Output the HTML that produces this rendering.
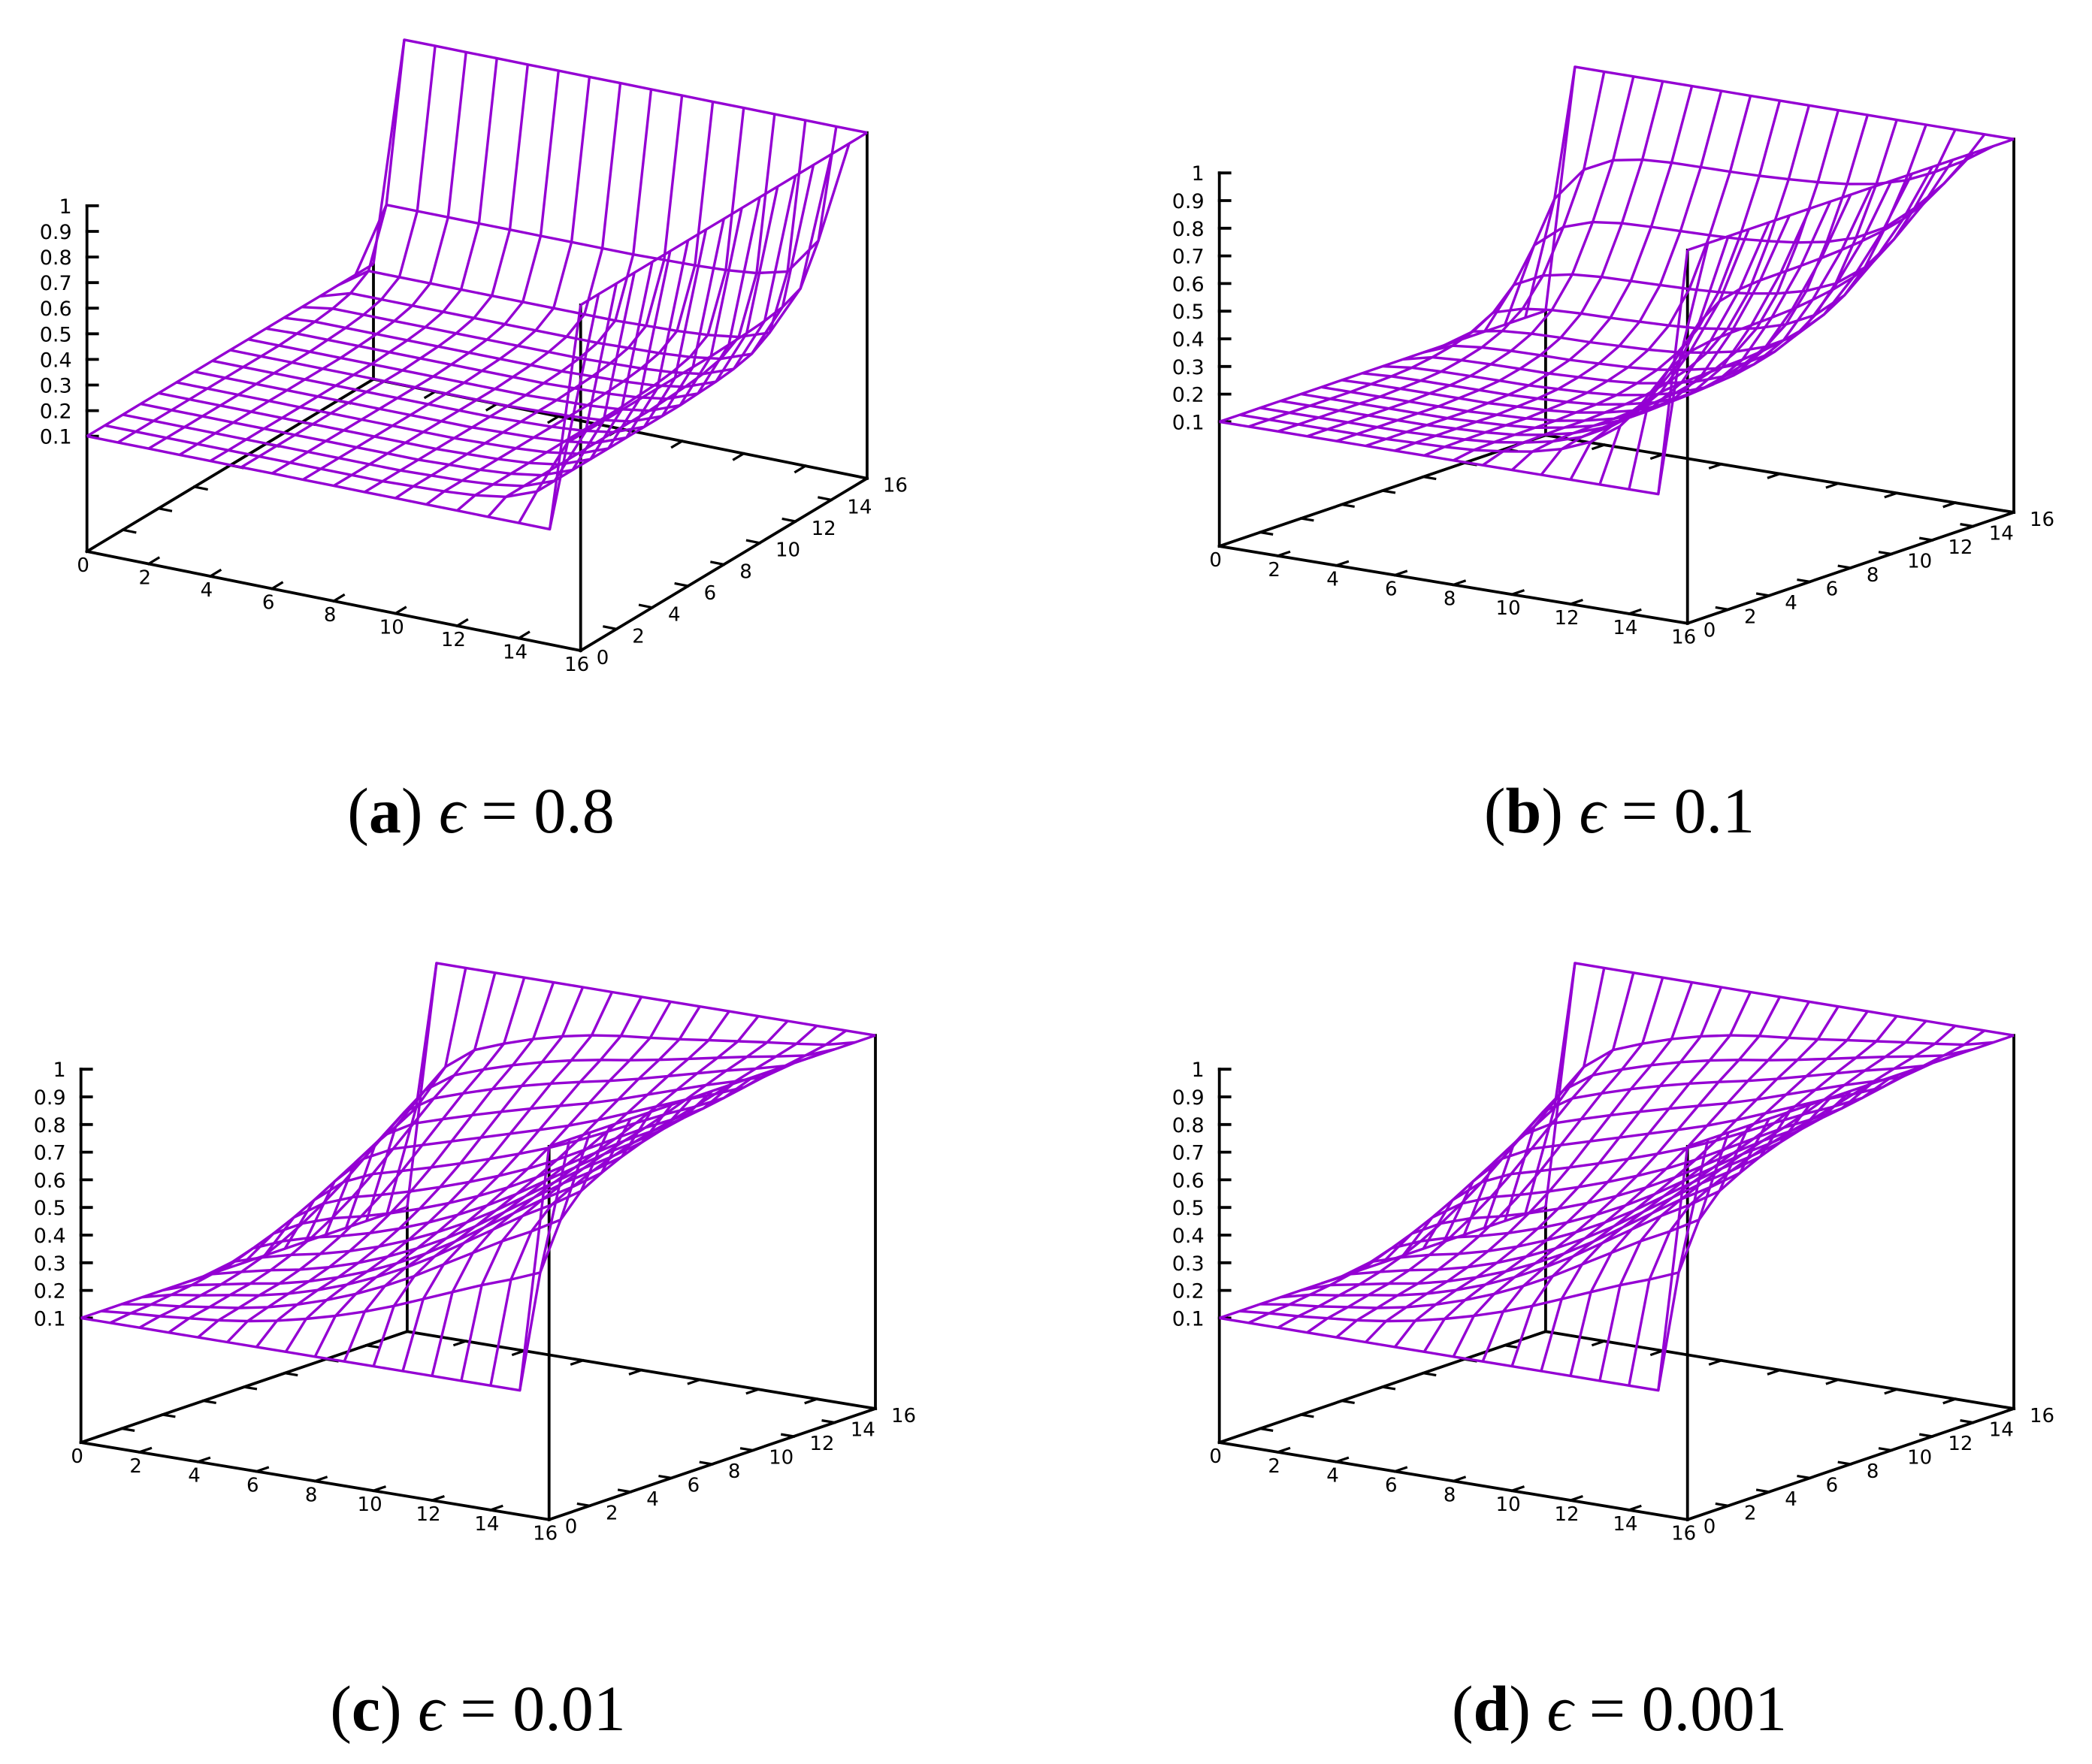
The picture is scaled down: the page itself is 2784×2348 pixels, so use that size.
<!DOCTYPE html>
<html><head><meta charset="utf-8"><title>Surface plots</title>
<style>html,body{margin:0;padding:0;background:#fff}svg{display:block}</style></head>
<body>
<svg id="fig" xmlns="http://www.w3.org/2000/svg" width="2784" height="2348" viewBox="0 0 2784 2348"></svg>
<script>
// ---- data ----
const xTickVals = [0,2,4,6,8,10,12,14,16];
const yTickVals = [0,2,4,6,8,10,12,14,16];
const zTickVals = [0.1,0.2,0.3,0.4,0.5,0.6,0.7,0.8,0.9,1];
const zTickLabels = ["0.1","0.2","0.3","0.4","0.5","0.6","0.7","0.8","0.9","1"];
const lowValue = 0.1;
const highValue = 1;
// boundary-layer profile (index = grid coordinate 0..16) per panel
const profA = [0,0,0,0,0,0,0,0,0,0,0.005,0.01,0.02,0.04,0.09,0.33,1];
const inflowA = [0,1,1,1,1,1,1,1,1,1,1,1,1,1,1,1,1];
const profB = [0,0,0,0,0,0,0.005,0.01,0.02,0.04,0.067,0.11,0.18,0.30,0.49,0.72,1];
const inflowB = [0,0.69,0.88,0.96,0.99,1,1,1,1,1,1,1,1,1,1,1,1];
const profC = [0,0.01,0.02,0.04,0.06,0.09,0.13,0.18,0.24,0.31,0.39,0.48,0.57,0.66,0.74,0.83,1];
const inflowC = [0,0.53,0.75,0.85,0.9,0.94,0.97,0.99,1,1,1,1,1,1,1,1,1];
const profD = [0,0.01,0.02,0.04,0.06,0.09,0.13,0.18,0.24,0.31,0.39,0.48,0.57,0.66,0.74,0.83,1];
const inflowD = [0,0.53,0.75,0.85,0.9,0.94,0.97,0.99,1,1,1,1,1,1,1,1,1];
const captionLetters = ["a","b","c","d"];
const captionEps = ["0.8","0.1","0.01","0.001"];

// ---- layout ----
const NS = "http://www.w3.org/2000/svg";
const svg = document.getElementById("fig");
const panels = [
  {O:[115.7,734], X:[41.06,8.25], Y:[23.83,-14.33], Z:340.8, cap:[640,1108], prof:profA, q:inflowA},
  {O:[1622.7,727], X:[38.94,6.42], Y:[27.14,-9.23], Z:368, cap:[2155,1108], prof:profB, q:inflowB},
  {O:[107.7,1920], X:[38.94,6.42], Y:[27.14,-9.23], Z:368, cap:[636,2303], prof:profC, q:inflowC},
  {O:[1622.7,1920], X:[38.94,6.42], Y:[27.14,-9.23], Z:368, cap:[2155,2303], prof:profD, q:inflowD}
];
const zBase = -0.35;
const PURPLE = "#9400d3";

function mk(tag, attrs, parent){
  const e = document.createElementNS(NS, tag);
  for (const k in attrs) e.setAttribute(k, attrs[k]);
  (parent||svg).appendChild(e);
  return e;
}
function value(p, i, j){
  if (i === 0) return lowValue;
  if (i === 16 || j === 16) return highValue;
  if (j === 0) return lowValue;
  const a = p.prof[i] * p.q[j], b = p.prof[j] * p.q[i];
  return lowValue + (highValue - lowValue) * (1 - (1 - a) * (1 - b));
}

panels.forEach((p, k) => {
  const g = mk("g", {});
  
  
  const P = (x, y, z) => [p.O[0] + x*p.X[0] + y*p.Y[0], p.O[1] + x*p.X[1] + y*p.Y[1] - (z - zBase)*p.Z];
  const line = (a, b, w, col, parent) => mk("line", {x1:a[0].toFixed(1), y1:a[1].toFixed(1), x2:b[0].toFixed(1), y2:b[1].toFixed(1), stroke:col, "stroke-width":w, "stroke-linecap":"square"}, parent);

  const ax = mk("g", {}, g);
  
  
  const c00 = P(0,0,zBase), c10 = P(16,0,zBase), c11 = P(16,16,zBase), c01 = P(0,16,zBase);
  line(c00, c10, 3.8, "#000", ax); line(c10, c11, 3.8, "#000", ax);
  line(c11, c01, 3.8, "#000", ax); line(c01, c00, 3.8, "#000", ax);
  line(c00, P(0,0,1), 3.8, "#000", ax);
  line(c10, P(16,0,1), 3.8, "#000", ax);
  line(c11, P(16,16,1), 3.8, "#000", ax);
  line(c01, P(0,16,0.1), 3.8, "#000", ax);

  xTickVals.forEach(v => {
    const a = P(v,0,zBase), b = P(v,0.55,zBase);
    const t = line(a, b, 3.2, "#000", ax);
    
    line(P(v,16,zBase), P(v,15.45,zBase), 3.2, "#000", ax);
    const lab = mk("text", {x:(a[0]-5).toFixed(1), y:(a[1]+27).toFixed(1), "text-anchor":"middle", "font-family":"DejaVu Sans, Liberation Sans, sans-serif", "font-size":"26", fill:"#000"}, ax);
    lab.textContent = String(v);
    
    
  });
  yTickVals.forEach(v => {
    const a = P(16,v,zBase);
    const t = line(a, P(15.6,v,zBase), 3.2, "#000", ax);
    
    line(P(0,v,zBase), P(0.4,v,zBase), 3.2, "#000", ax);
    const lab = mk("text", {x:(a[0]+21).toFixed(1), y:(a[1]+18).toFixed(1), "text-anchor":"start", "font-family":"DejaVu Sans, Liberation Sans, sans-serif", "font-size":"26", fill:"#000"}, ax);
    lab.textContent = String(v);
    
    
  });
  zTickVals.forEach((v, idx) => {
    const a = P(0,0,v);
    const t = line(a, [a[0]+14, a[1]], 3.8, "#000", ax);
    
    const lab = mk("text", {x:(a[0]-20).toFixed(1), y:(a[1]+10).toFixed(1), "text-anchor":"end", "font-family":"DejaVu Sans, Liberation Sans, sans-serif", "font-size":"27", fill:"#000"}, ax);
    lab.textContent = zTickLabels[idx];
    
    
  });

  const mesh = mk("g", {fill:"none", stroke:PURPLE, "stroke-width":"3.4", "stroke-linejoin":"round"}, g);
  
  
  for (let j = 0; j <= 16; j++) {
    const pts = [];
    for (let i = 0; i <= 16; i++) { const s = P(i, j, value(p, i, j)); pts.push(s[0].toFixed(1) + "," + s[1].toFixed(1)); }
    const pl = mk("polyline", {points: pts.join(" ")}, mesh);
    
    
  }
  for (let i = 0; i <= 16; i++) {
    const pts = [];
    for (let j = 0; j <= 16; j++) { const s = P(i, j, value(p, i, j)); pts.push(s[0].toFixed(1) + "," + s[1].toFixed(1)); }
    const pl = mk("polyline", {points: pts.join(" ")}, mesh);
    
    
  }

  const cap = mk("text", {x:p.cap[0], y:p.cap[1], "text-anchor":"middle", "font-family":"Liberation Serif, DejaVu Serif, serif", "font-size":"86", fill:"#000"}, g);
  
  
  const t1 = mk("tspan", {}, cap); t1.textContent = "(";
  const t2 = mk("tspan", {"font-weight":"bold"}, cap); t2.textContent = captionLetters[k];
  const t3 = mk("tspan", {}, cap); t3.textContent = ") ";
  const t4 = mk("tspan", {"font-style":"italic"}, cap); t4.textContent = "ϵ";
  const t5 = mk("tspan", {}, cap); t5.textContent = " = " + captionEps[k];
});
</script>
</body></html>
